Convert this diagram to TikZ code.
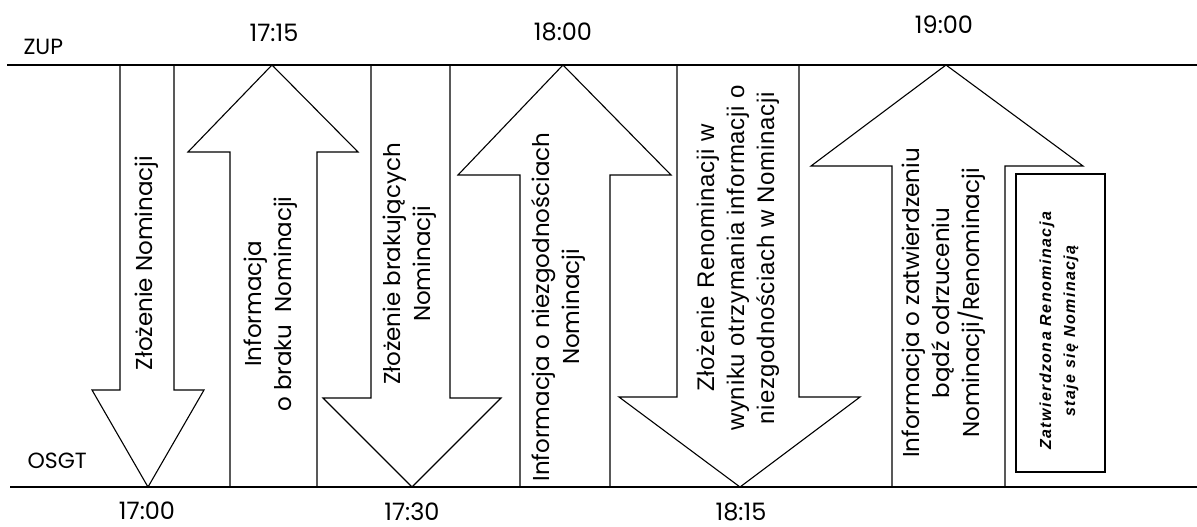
\documentclass[tikz,border=0pt]{standalone}
\usepackage{fontspec}
\setmainfont{Poppins}
\newfontfamily\arialfont[LetterSpace=3]{Liberation Sans}
\newfontfamily\boxfont[LetterSpace=9]{Liberation Sans}
\begin{document}
\begin{tikzpicture}[x=1pt,y=-1pt,line width=1.1pt,
    timelabel/.style={font=\fontsize{24}{26}\selectfont,inner sep=1pt},
    sidelabel/.style={font=\fontsize{22}{24}\selectfont,anchor=west,inner xsep=0pt},
    arrowtext/.style={rotate=90,align=center,font=\fontsize{23}{30}\selectfont},
    arrowshape/.style={draw=black,line join=miter}]
    \useasboundingbox (0,0) rectangle (1197,527);

    % time lines
    \draw (7,65) coordinate (zupL) -- (1197,65) coordinate (zupR);
    \draw (10,487) coordinate (osgtL) -- (1197,487) coordinate (osgtR);
    \node[sidelabel] (zup) at (23,47) {ZUP};
    \node[sidelabel] (osgt) at (27,461) {OSGT};

    % arrows
    \draw[arrowshape] (120,65) -- (120,390) -- (92,390) -- (148,487) -- (204,390) -- (174,390) -- (174,65);
    \draw[arrowshape] (230,487) -- (230,152) -- (188,152) -- (272,65) -- (358,152) -- (317,152) -- (317,487);
    \draw[arrowshape] (371,65) -- (371,398) -- (323,398) -- (412,487) -- (501,398) -- (450,398) -- (450,65);
    \draw[arrowshape] (520,487) -- (520,175) -- (458,175) -- (563,65) -- (671,175) -- (610,175) -- (610,487);
    \draw[arrowshape] (677,65) -- (677,397) -- (619,397) -- (740,487) -- (860,397) -- (799,397) -- (799,65);
    \draw[arrowshape] (892,487) -- (892,166) -- (811,166) -- (946,65) -- (1083,166) -- (1005,166) -- (1005,487);
    \draw (1016,174) rectangle (1105,472);

    % times
    \node[timelabel] (t1700) at (147,511) {17:00};
    \node[timelabel] (t1715) at (274,33) {17:15};
    \node[timelabel] (t1730) at (412,512) {17:30};
    \node[timelabel] (t1800) at (563,32) {18:00};
    \node[timelabel] (t1815) at (741,512) {18:15};
    \node[timelabel] (t1900) at (944,25) {19:00};

    % texts
    \node[arrowtext] (a1) at (147,263) {Złożenie Nominacji};
    \node[arrowtext] (a2) at (271,304) {Informacja\\o braku~ Nominacji};
    \node[arrowtext] (a3) at (410,264) {Złożenie brakujących\\Nominacji};
    \node[arrowtext] (a4) at (558,307) {Informacja o niezgodnościach\\Nominacji};
    \node[arrowtext,font=\arialfont\fontsize{24}{30}\selectfont] (a5) at (738,258)
        {Złożenie Renominacji w\\wyniku otrzymania informacji o\\niezgodnościach w Nominacji};
    \node[arrowtext] (a6) at (944,303) {Informacja o zatwierdzeniu\\bądź odrzuceniu\\Nominacji/Renominacji};
    \node[arrowtext,font=\boxfont\bfseries\itshape\fontsize{16}{24}\selectfont] (box) at (1059,331)
        {Zatwierdzona Renominacja\\staje się Nominacją};
\end{tikzpicture}
\end{document}
